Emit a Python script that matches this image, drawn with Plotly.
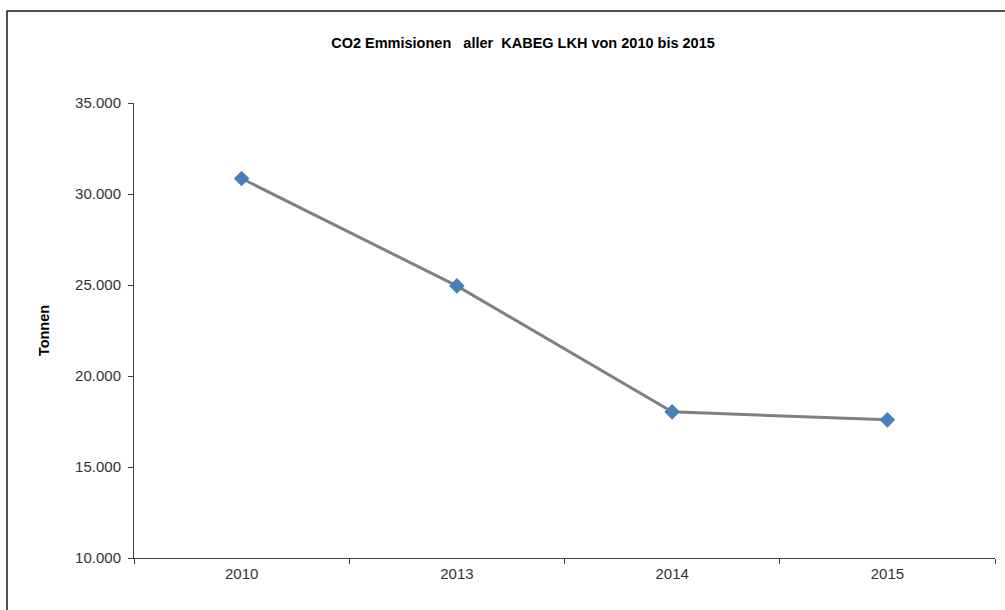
import plotly.graph_objects as go

years = ["2010", "2013", "2014", "2015"]
emissions = [30850, 24950, 18030, 17590]
y_ticks = [10000, 15000, 20000, 25000, 30000, 35000]

title_text = "CO2 Emmisionen\u00a0\u00a0 aller\u00a0 KABEG LKH von 2010 bis 2015"
y_title = "Tonnen"

W, H = 1005, 610
L, R, T, B = 134, 10, 103, 52
pw, ph = W - L - R, H - T - B

def px_x(px):
    return (px - L) / pw

def px_y(py):
    return (H - B - py) / ph

fig = go.Figure()
fig.add_trace(go.Scatter(
    x=years, y=emissions, mode="lines+markers",
    line=dict(color="#808080", width=3),
    marker=dict(symbol="diamond", size=12, color="#4a7ebb", line=dict(width=0)),
    showlegend=False, hoverinfo="skip",
))

axis_font = dict(family="Liberation Sans, Arial, sans-serif", size=15, color="#333333")

fig.update_layout(
    width=W, height=H,
    margin=dict(l=L, r=R, t=T, b=B),
    paper_bgcolor="white", plot_bgcolor="white",
    separators=",.",
    title=dict(
        text="<b>" + title_text + "</b>",
        font=dict(family="Liberation Sans, Arial, sans-serif", size=14.5, color="#000000"),
        xref="paper", x=px_x(523), xanchor="center",
        yref="container", y=1 - 43 / H, yanchor="middle",
    ),
    xaxis=dict(
        type="category", range=[-0.5, 3.5],
        showline=True, linecolor="#404040", linewidth=1,
        ticks="outside", ticklen=5, tickcolor="#404040", tickwidth=1,
        tickson="boundaries", showgrid=False, zeroline=False,
        tickfont=axis_font, ticklabelstandoff=2,
    ),
    yaxis=dict(
        range=[10000, 35000], tickvals=y_ticks, tickformat=",d",
        showline=True, linecolor="#404040", linewidth=1,
        ticks="outside", ticklen=5, tickcolor="#404040", tickwidth=1,
        showgrid=False, zeroline=False,
        tickfont=axis_font, ticklabelstandoff=4,
        title=dict(text="<b>" + y_title + "</b>", standoff=22,
                   font=dict(family="Liberation Sans, Arial, sans-serif", size=14.5, color="#000000")),
    ),
    shapes=[dict(
        type="rect", xref="paper", yref="paper",
        x0=px_x(7), x1=px_x(1012), y0=px_y(616), y1=px_y(11),
        line=dict(color="#1a1a1a", width=1.5), fillcolor="rgba(0,0,0,0)", layer="below",
    )],
)

fig.write_html(
    "out.html",
    config={"displayModeBar": False},
    post_script="document.body.style.margin='0';document.body.style.overflow='hidden';",
)
